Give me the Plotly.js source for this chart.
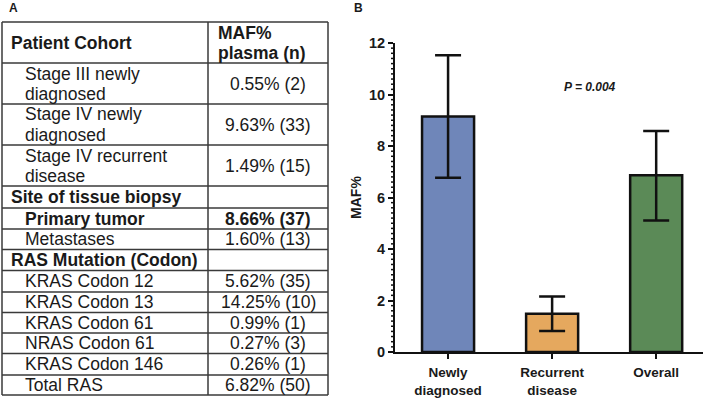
<!DOCTYPE html>
<html>
<head>
<meta charset="utf-8">
<script src="https://cdn.plot.ly/plotly-3.0.1.min.js"></script>
<style>html,body{margin:0;padding:0;background:#fff;}#chart{width:709px;height:400px;}</style>
</head>
<body>
<div id="chart"></div>
<script>
// ---------- Data ----------
// Panel B: bar chart
const categories = ['Newly<br>diagnosed', 'Recurrent<br>disease', 'Overall'];
const mafMean = [9.15, 1.49, 6.86];
const errPlus = [2.37, 0.67, 1.72];
const errMinus = [2.38, 0.67, 1.75];
const pValueText = 'P = 0.004';

// Panel A: table
const tableHeader = ['Patient Cohort', 'MAF%<br>plasma (n)'];
const tableLabels = [
  'Stage III newly<br>diagnosed',
  'Stage IV newly<br>diagnosed',
  'Stage IV recurrent<br>disease',
  'Site of tissue biopsy',
  'Primary tumor',
  'Metastases',
  'RAS Mutation (Codon)',
  'KRAS Codon 12',
  'KRAS Codon 13',
  'KRAS Codon 61',
  'NRAS Codon 61',
  'KRAS Codon 146',
  'Total RAS'
];
const tableValues = [
  '0.55% (2)', '9.63% (33)', '1.49% (15)', '',
  '8.66% (37)', '1.60% (13)', '',
  '5.62% (35)', '14.25% (10)', '0.99% (1)', '0.27% (3)', '0.26% (1)', '6.82% (50)'
];
const sectionRows = [3, 6];      // bold, not indented
const highlightRows = [4];       // bold, indented

// ---------- Layout helpers ----------
const W = 709, H = 400;
const M = {l: 395, r: 6, t: 43, b: 48};
const PW = W - M.l - M.r, PH = H - M.t - M.b;
const px = x => (x - M.l) / PW;
const py = y => (H - M.b - y) / PH;

const FONT = 'Liberation Sans, Arial, Helvetica, sans-serif';
const TXT = '#1a1a1a';
const LINE = '#3a3a3a';

// row boundaries (pixels) for header + 13 rows
const rowEdges = [22, 63, 104, 145, 186, 208, 229, 249.5, 270.5, 292, 312.5, 333, 353.5, 375, 395];
const colEdges = [2, 208, 328];
const lineGap = 20;

const shapes = [];
const annotations = [];

rowEdges.forEach(y => shapes.push({
  type: 'line', xref: 'paper', yref: 'paper',
  x0: px(colEdges[0]), x1: px(colEdges[2]), y0: py(y), y1: py(y),
  line: {color: LINE, width: 1.5}
}));
colEdges.forEach(x => shapes.push({
  type: 'line', xref: 'paper', yref: 'paper',
  x0: px(x), x1: px(x), y0: py(rowEdges[0]), y1: py(rowEdges[rowEdges.length - 1]),
  line: {color: LINE, width: 1.5}
}));

// minor y ticks (every 0.2 units) along the y axis, whose range is [0, yMax]
const yMax = 12, minorStep = 0.2, majorStep = 2;
for (let k = 1; k < Math.round(yMax / minorStep); k++) {
  if (k % Math.round(majorStep / minorStep) === 0) continue;
  const f = (k * minorStep) / yMax;
  shapes.push({
    type: 'line', xref: 'paper', yref: 'paper',
    x0: -4 / PW, x1: -0.5 / PW, y0: f, y1: f,
    line: {color: '#111', width: 1.5}
  });
}

function addText(text, x, yc, anchor, bold) {
  const lines = text.split('<br>');
  const n = lines.length;
  lines.forEach((ln, i) => {
    const y = yc + (i - (n - 1) / 2) * lineGap;
    annotations.push({
      xref: 'paper', yref: 'paper', x: px(x), y: py(y),
      xanchor: anchor, yanchor: 'middle', showarrow: false,
      text: bold ? '<b>' + ln + '</b>' : ln,
      font: {family: FONT, size: 17.5, color: TXT}
    });
  });
}

// header
const hc = (rowEdges[0] + rowEdges[1]) / 2;
addText(tableHeader[0], 9, hc, 'left', true);
addText(tableHeader[1], 216, hc, 'left', true);

tableLabels.forEach((lab, i) => {
  const yc = (rowEdges[i + 1] + rowEdges[i + 2]) / 2;
  const isSection = sectionRows.includes(i);
  const isBold = isSection || highlightRows.includes(i);
  addText(lab, isSection ? 9 : 23, yc, 'left', isBold);
  if (tableValues[i]) addText(tableValues[i], (colEdges[1] + colEdges[2]) / 2, yc, 'center', isBold);
});

// panel letters
annotations.push({xref: 'paper', yref: 'paper', x: px(7), y: py(8), xanchor: 'left', yanchor: 'middle',
  showarrow: false, text: '<b>A</b>', font: {family: FONT, size: 12, color: TXT}});
annotations.push({xref: 'paper', yref: 'paper', x: px(352), y: py(8), xanchor: 'left', yanchor: 'middle',
  showarrow: false, text: '<b>B</b>', font: {family: FONT, size: 12, color: TXT}});

// p value
annotations.push({xref: 'x', yref: 'y', x: 1.36, y: 10.3, xanchor: 'center', yanchor: 'middle',
  showarrow: false, text: '<b><i>' + pValueText + '</i></b>', font: {family: FONT, size: 12, color: TXT}});

const barTrace = {
  type: 'bar',
  x: categories,
  y: mafMean,
  width: 0.5,
  marker: {color: ['#6f86b9', '#e5a85e', '#5b8a57'], line: {color: '#111', width: 2.5}},
  error_y: {type: 'data', symmetric: false, array: errPlus, arrayminus: errMinus,
    color: '#111', thickness: 2.5, width: 13},
  hoverinfo: 'skip'
};

const layout = {
  width: W, height: H,
  margin: M,
  paper_bgcolor: '#fff', plot_bgcolor: '#fff',
  showlegend: false,
  font: {family: FONT, color: TXT},
  xaxis: {
    type: 'category', range: [-0.51, 2.45],
    showline: true, linecolor: '#111', linewidth: 2,
    ticks: 'outside', ticklen: 5, tickwidth: 2, tickcolor: '#111',
    tickfont: {family: FONT, size: 13.5, weight: 'bold', color: TXT},
    ticklabelstandoff: 2,
    showgrid: false, zeroline: false, fixedrange: true
  },
  yaxis: {
    range: [0, yMax], tickmode: 'linear', tick0: 0, dtick: majorStep,
    showline: true, linecolor: '#111', linewidth: 2,
    ticks: 'outside', ticklen: 5, tickwidth: 2, tickcolor: '#111',
    tickfont: {family: FONT, size: 14.5, weight: 'bold', color: TXT},
    title: {text: 'MAF%', standoff: 4, font: {family: FONT, size: 14, weight: 'bold', color: TXT}},
    showgrid: false, zeroline: false, fixedrange: true
  },
  shapes: shapes,
  annotations: annotations
};

Plotly.newPlot('chart', [barTrace], layout, {displayModeBar: false, staticPlot: true});
</script>
</body>
</html>
